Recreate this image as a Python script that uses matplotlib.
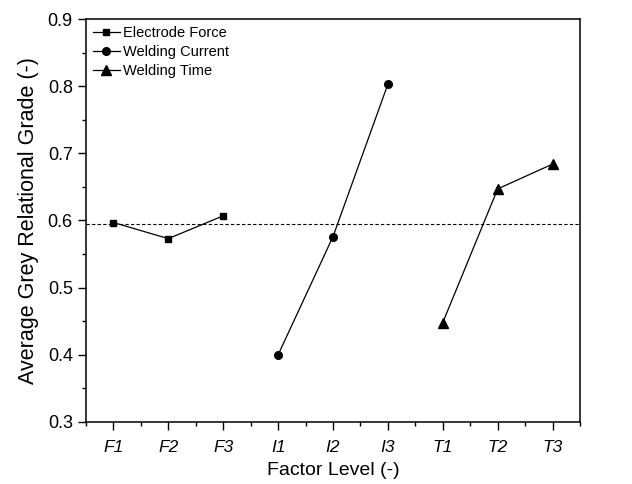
import numpy as np
import matplotlib.pyplot as plt
from matplotlib.ticker import MultipleLocator

plt.rcParams['font.family'] = ['Liberation Sans', 'DejaVu Sans']

levels = ["F1", "F2", "F3", "I1", "I2", "I3", "T1", "T2", "T3"]
force = [0.597, 0.573, 0.607]
current = [0.400, 0.576, 0.803]
weld_time = [0.448, 0.647, 0.684]
mean_grade = 0.595

fig = plt.figure(figsize=(6.32, 4.84), dpi=100)
ax = fig.add_axes([86 / 632, 1 - 422 / 484, (580 - 86) / 632, (422 - 19) / 484])

x = np.arange(1, 10)
ax.plot(x[0:3], force, color="black", lw=0.9, marker="s", ms=5, label="Electrode Force")
ax.plot(x[3:6], current, color="black", lw=0.9, marker="o", ms=5.5, label="Welding Current")
ax.plot(x[6:9], weld_time, color="black", lw=0.9, marker="^", ms=6.5, label="Welding Time")
ax.axhline(mean_grade, color="black", lw=0.8, ls=(0, (3, 2)))

ax.set_xlim(0.5, 9.5)
ax.set_ylim(0.3, 0.9)
ax.set_xticks(x)
ax.set_xticklabels(levels, fontstyle="italic", fontsize=12.5)
ax.xaxis.set_minor_locator(MultipleLocator(0.5))
ax.yaxis.set_major_locator(MultipleLocator(0.1))
ax.yaxis.set_minor_locator(MultipleLocator(0.05))
ax.tick_params(which="major", direction="out", length=6, width=1)
ax.tick_params(which="minor", direction="out", length=3, width=1)
ax.tick_params(axis="y", labelsize=13)
ax.tick_params(axis="x", which="major", pad=7)
for s in ax.spines.values():
    s.set_linewidth(1.1)

ax.set_xlabel("Factor Level (-)", fontsize=14, labelpad=5)
ax.set_ylabel("Average Grey Relational Grade (-)", fontsize=15.5, labelpad=6)

ax.legend(loc="upper left", frameon=False, fontsize=10.5, handlelength=1.8,
          handletextpad=0.25, labelspacing=0.35, borderaxespad=0.3,
          borderpad=0.2)

fig.savefig("out.png", dpi=100)
